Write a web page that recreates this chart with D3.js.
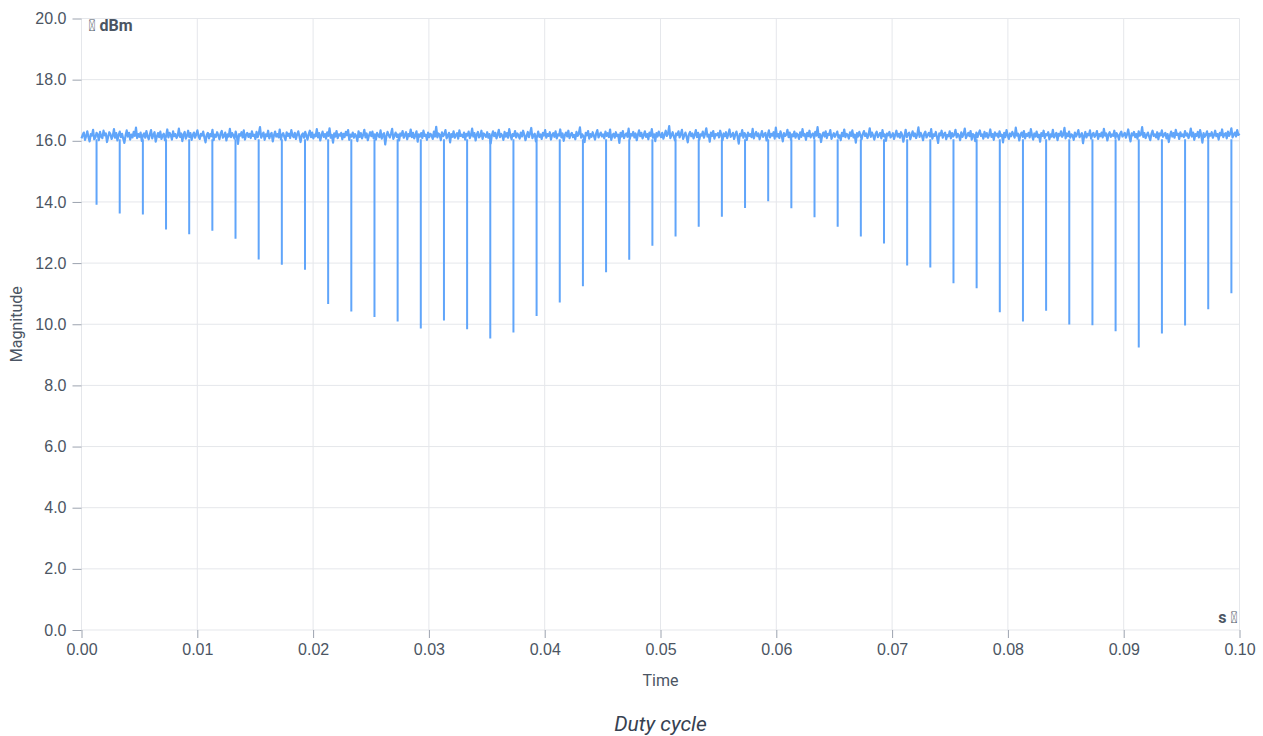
<!DOCTYPE html>
<html>
<head>
<meta charset="utf-8">
<script src="https://cdn.jsdelivr.net/npm/d3@7"></script>
<style>
  body { margin: 0; background: #fff; }
  svg { font-family: Roboto, "Noto Sans", sans-serif; }
</style>
</head>
<body>
<svg id="chart" width="1263" height="736"></svg>
<script>
// magnitude trace (dBm), evenly sampled over 0 .. 0.1 s
var noise = [
  16.08,16.19,16.27,16.03,16.15,16.31,16.12,15.98,16.22,16.17,16.36,16.05,16.11,16.26,16.20,16.02,16.29,16.14,16.09,16.33,16.18,16.24,15.96,16.13,16.28,
  16.21,16.06,16.16,16.38,16.10,16.25,16.01,16.19,16.30,16.12,16.23,16.07,15.93,16.17,16.34,16.14,16.26,16.04,16.20,16.11,16.29,16.16,16.43,16.09,16.22,
  16.13,16.27,16.00,16.18,16.24,16.10,16.32,16.15,16.05,16.21,16.35,16.08,16.19,16.28,15.97,16.14,16.25,16.12,16.30,16.06,16.18,16.23,16.02,16.16,16.37,
  16.11,16.26,16.19,16.04,16.31,16.15,16.22,16.09,16.17,16.40,16.13,16.24,15.99,16.20,16.29,16.07,16.16,16.33,16.12,16.25,16.03,16.18,16.27,16.10,16.21,
  16.34,16.14,16.06,16.23,16.17,16.30,16.11,15.95,16.19,16.26,16.08,16.22,16.15,16.36,16.02,16.20,16.13,16.28,16.18,16.05,16.24,16.32,16.10,16.16,16.27,
  16.01,16.21,16.14,16.39,16.12,16.25,16.18,16.07,16.30,16.15,15.90,16.22,16.17,16.28,16.11,16.34,16.04,16.19,16.26,16.13,16.23,16.09,16.31,16.16,16.20,
  16.06,16.29,16.12,16.24,16.45,16.10,16.18,16.27,16.03,16.21,16.15,16.33,16.08,16.20,16.26,15.98,16.17,16.30,16.14,16.22,16.11,16.37,16.05,16.19,16.25,
  16.13,16.02,16.28,16.16,16.23,16.09,16.35,16.18,16.12,16.26,16.06,16.21,16.31,16.14,15.96,16.19,16.24,16.10,16.29,16.17,16.04,16.22,16.33,16.12,16.27,
  16.08,16.20,16.15,16.38,16.11,16.25,16.01,16.18,16.30,16.13,16.22,16.07,16.28,16.16,16.41,16.10,16.19,15.94,16.24,16.14,16.32,16.09,16.21,16.17,16.26,
  16.05,16.23,16.12,16.29,16.18,16.35,16.03,16.20,16.14,16.27,16.10,16.22,16.16,15.99,16.31,16.13,16.25,16.08,16.19,16.36,16.11,16.24,16.02,16.17,16.28,
  16.15,16.30,16.09,16.21,16.04,16.26,16.18,16.12,16.34,16.07,16.20,16.25,15.88,16.14,16.29,16.19,16.11,16.23,16.39,16.06,16.16,16.27,16.13,16.21,16.01,
  16.24,16.17,16.32,16.10,16.19,16.28,16.05,16.22,16.15,16.37,16.12,16.26,16.08,16.18,16.31,15.97,16.21,16.14,16.25,16.09,16.33,16.16,16.20,16.03,16.27,
  16.12,16.23,16.18,16.06,16.30,16.14,16.46,16.11,16.24,16.19,16.02,16.28,16.15,16.21,16.35,16.08,16.17,16.26,15.95,16.22,16.13,16.31,16.10,16.19,16.25,
  16.07,16.34,16.16,16.20,16.12,16.27,16.04,16.23,16.17,16.30,16.09,16.18,16.40,16.14,16.25,16.01,16.21,16.29,16.11,16.16,16.33,16.06,16.24,16.19,16.13,
  16.28,16.10,16.22,15.92,16.18,16.31,16.15,16.26,16.08,16.20,16.36,16.12,16.23,16.17,16.03,16.29,16.14,16.25,16.10,16.38,16.19,16.05,16.22,16.16,16.32,
  16.11,16.24,16.18,16.07,16.27,16.14,16.33,16.20,16.02,16.16,16.29,16.12,16.25,16.42,16.09,16.19,16.23,15.98,16.15,16.30,16.13,16.21,16.06,16.26,16.17,
  16.35,16.10,16.22,16.16,16.28,16.04,16.19,16.25,16.13,16.31,16.08,16.21,16.17,16.37,16.11,16.24,16.00,16.18,16.27,16.14,16.33,16.09,16.20,16.26,16.12,
  16.19,16.05,16.29,16.16,16.23,16.44,16.10,16.21,16.15,15.96,16.26,16.18,16.32,16.07,16.22,16.13,16.28,16.17,16.04,16.24,16.35,16.11,16.19,16.27,16.14,
  16.21,16.08,16.30,16.16,16.25,16.12,16.37,16.03,16.18,16.23,16.10,16.28,16.15,16.20,15.93,16.26,16.14,16.32,16.09,16.19,16.24,16.13,16.40,16.06,16.22,
  16.17,16.29,16.11,16.24,16.02,16.20,16.34,16.15,16.26,16.08,16.18,16.31,16.13,16.22,16.05,16.27,16.16,16.38,16.10,16.21,15.99,16.25,16.14,16.30,16.19,
  16.12,16.26,16.07,16.20,16.33,16.16,16.23,16.48,16.09,16.18,16.28,16.14,16.01,16.24,16.19,16.31,16.11,16.22,16.36,16.06,16.17,16.27,16.13,15.95,16.21,
  16.29,16.15,16.24,16.08,16.19,16.35,16.12,16.26,16.04,16.21,16.17,16.30,16.10,16.23,16.41,16.14,16.20,15.97,16.27,16.16,16.32,16.07,16.22,16.18,16.25,
  16.11,16.33,16.19,16.02,16.24,16.15,16.28,16.09,16.21,16.37,16.13,16.18,16.26,16.06,16.20,16.30,16.14,15.91,16.23,16.17,16.35,16.10,16.25,16.19,16.03,
  16.27,16.16,16.22,16.12,16.39,16.08,16.20,16.29,16.15,16.24,16.05,16.18,16.32,16.13,16.21,16.26,16.01,16.19,16.34,16.11,16.23,16.17,16.28,16.07,16.43,
  16.14,16.22,16.09,16.31,16.18,15.98,16.25,16.16,16.20,16.36,16.12,16.27,16.04,16.21,16.15,16.30,16.10,16.24,16.19,16.06,16.28,16.13,16.38,16.17,16.22,
  16.03,16.26,16.15,16.33,16.11,16.20,16.24,16.08,16.29,16.17,16.45,16.12,16.22,15.96,16.18,16.27,16.14,16.31,16.09,16.23,16.19,16.35,16.06,16.16,16.25,
  16.13,16.21,16.30,16.10,16.18,16.02,16.26,16.15,16.37,16.12,16.23,16.19,16.07,16.28,16.16,16.34,16.11,16.20,15.94,16.25,16.14,16.29,16.18,16.05,16.22,
  16.32,16.16,16.24,16.09,16.20,16.41,16.13,16.27,16.17,16.04,16.22,16.30,16.12,16.19,16.26,16.08,16.35,16.15,16.21,16.00,16.24,16.18,16.29,16.11,16.17,
  16.25,16.06,16.20,16.33,16.14,16.23,16.10,16.28,16.19,15.97,16.16,16.36,16.12,16.22,16.27,16.05,16.18,16.31,16.15,16.24,16.09,16.20,16.44,16.13,16.26,
  16.17,16.02,16.23,16.30,16.11,16.19,16.26,16.14,16.38,16.07,16.21,16.16,16.29,16.12,15.93,16.24,16.18,16.33,16.10,16.22,16.27,16.05,16.19,16.15,16.31,
  16.08,16.25,16.14,16.20,16.36,16.11,16.23,16.17,16.02,16.28,16.13,16.21,16.40,16.09,16.18,16.26,16.15,16.32,16.04,16.22,16.19,15.99,16.27,16.12,16.24,
  16.34,16.16,16.21,16.07,16.29,16.14,16.25,16.10,16.19,16.37,16.13,16.22,16.03,16.28,16.17,16.23,16.11,16.31,16.16,16.20,15.95,16.26,16.12,16.35,16.18,
  16.06,16.24,16.15,16.29,16.21,16.10,16.43,16.17,16.23,16.01,16.19,16.27,16.13,16.32,16.08,16.22,16.16,16.26,16.11,16.38,16.18,16.04,16.24,16.14,16.30,
  16.12,16.20,15.97,16.25,16.16,16.33,16.09,16.22,16.18,16.28,16.05,16.21,16.14,16.36,16.11,16.19,16.26,16.02,16.23,16.17,16.31,16.13,16.20,16.42,16.08,
  16.24,16.15,16.30,16.10,16.21,16.18,16.03,16.27,16.14,16.22,16.35,16.12,16.19,16.25,15.92,16.16,16.29,16.11,16.23,16.18,16.34,16.07,16.20,16.26,16.13,
  16.19,16.32,16.06,16.22,16.15,16.27,16.11,16.39,16.17,16.24,16.01,16.20,16.28,16.13,16.21,16.16,16.33,16.09,16.25,16.18,16.04,16.23,16.30,16.14,16.19,
  16.26,16.10,16.21,16.37,16.15,15.98,16.24,16.18,16.29,16.12,16.22,16.07,16.31,16.17,16.20,16.45,16.13,16.25,16.09,16.19,16.27,16.14,16.02,16.23,16.33,
  16.16,16.21,16.11,16.28,16.05,16.24,16.18,16.34,16.13,16.20,16.26,16.08,16.22,15.96,16.17,16.30,16.14,16.25,16.10,16.36,16.19,16.23,16.06,16.28,16.15,
  16.21,16.12,16.32,16.17,16.24,16.09,16.19,16.40,16.14,16.27,16.03,16.22,16.16,16.29,16.11,16.35,16.18,15.94,16.25,16.13,16.20,16.31,16.07,16.23,16.17,
  16.28,16.10,16.19,16.33,16.15,16.22,16.04,16.26,16.18,16.37,16.12,16.21,16.25,16.08,16.30,16.16,16.23,16.41,16.11,16.20,16.27,16.14,16.35,16.19,16.24
];

// pulse dips: time (s) and lowest magnitude (dBm)
var dipTimes = [
  0.0013,0.0033,0.0053,0.0073,0.0093,0.0113,0.0133,0.0153,0.0173,0.0193,
  0.0213,0.0233,0.0253,0.0273,0.0293,0.0313,0.0333,0.0353,0.0373,0.0393,
  0.0413,0.0433,0.0453,0.0473,0.0493,0.0513,0.0533,0.0553,0.0573,0.0593,
  0.0613,0.0633,0.0653,0.0673,0.0693,0.0713,0.0733,0.0753,0.0773,0.0793,
  0.0813,0.0833,0.0853,0.0873,0.0893,0.0913,0.0933,0.0953,0.0973,0.0993
];
var dipValues = [
  13.91,13.62,13.59,13.10,12.94,13.06,12.80,12.12,11.95,11.78,
  10.66,10.42,10.24,10.09,9.86,10.12,9.84,9.53,9.73,10.27,
  10.71,11.24,11.70,12.11,12.57,12.87,13.19,13.52,13.80,14.02,
  13.79,13.50,13.19,12.87,12.64,11.92,11.86,11.34,11.18,10.39,
  10.09,10.44,9.99,9.97,9.77,9.24,9.70,9.96,10.49,11.01
];

var xTicks = [0, 0.01, 0.02, 0.03, 0.04, 0.05, 0.06, 0.07, 0.08, 0.09, 0.10];
var yTicks = [0, 2, 4, 6, 8, 10, 12, 14, 16, 18, 20];

var margin = {top: 18.5, right: 23.5, bottom: 106, left: 81.5};
var width = 1263 - margin.left - margin.right,
    height = 736 - margin.top - margin.bottom;

var svg = d3.select("#chart");
var g = svg.append("g").attr("transform", "translate(" + margin.left + "," + margin.top + ")");

var x = d3.scaleLinear().domain([0, 0.1]).range([0, width]);
var y = d3.scaleLinear().domain([0, 20]).range([height, 0]);

// grid
g.append("g").selectAll("line").data(yTicks).enter().append("line")
  .attr("x1", 0).attr("x2", width)
  .attr("y1", function(d){ return y(d); }).attr("y2", function(d){ return y(d); })
  .attr("stroke", "#e5e7eb").attr("stroke-width", 1);
g.append("g").selectAll("line").data(xTicks).enter().append("line")
  .attr("y1", 0).attr("y2", height)
  .attr("x1", function(d){ return x(d); }).attr("x2", function(d){ return x(d); })
  .attr("stroke", "#e5e7eb").attr("stroke-width", 1);

// axes
var yAxis = g.append("g")
  .call(d3.axisLeft(y).tickValues(yTicks).tickFormat(d3.format(".1f")).tickSize(9).tickPadding(6));
var xAxis = g.append("g").attr("transform", "translate(0," + height + ")")
  .call(d3.axisBottom(x).tickValues(xTicks).tickFormat(d3.format(".2f")).tickSize(8).tickPadding(6));
[yAxis, xAxis].forEach(function(a){
  a.select(".domain").remove();
  a.selectAll(".tick line").attr("stroke", "#9ca3af");
  a.selectAll(".tick text").attr("fill", "#4b5563").style("font-size", "16px");
});

// trace
var step = 0.1 / (noise.length - 1);
var line = d3.line()
  .x(function(d, i){ return x(i * step); })
  .y(function(d){ return y(d); });

g.append("path")
  .datum(dipTimes)
  .attr("fill", "none")
  .attr("stroke", "#60a5fa")
  .attr("stroke-width", 2)
  .attr("d", function(d){
    return d.map(function(t, i){
      return "M" + x(t) + "," + y(16.05) + "V" + y(dipValues[i]);
    }).join("");
  });

g.append("path")
  .datum(noise)
  .attr("fill", "none")
  .attr("stroke", "#60a5fa")
  .attr("stroke-width", 2.2)
  .attr("stroke-linejoin", "round")
  .attr("d", line);

// unit labels
g.append("text").attr("x", 7).attr("y", 12)
  .attr("fill", "#4b5563").style("font-size", "16px").style("font-weight", "bold")
  .text("\uf2c9 dBm");
g.append("text").attr("x", width - 2).attr("y", height - 7)
  .attr("text-anchor", "end")
  .attr("fill", "#4b5563").style("font-size", "16px").style("font-weight", "bold")
  .text("s \uf2c9");

// axis titles
svg.append("text")
  .attr("transform", "translate(22," + (margin.top + height / 2) + ") rotate(-90)")
  .attr("text-anchor", "middle")
  .attr("fill", "#4b5563").style("font-size", "16px")
  .text("Magnitude");
svg.append("text")
  .attr("x", margin.left + width / 2).attr("y", 686)
  .attr("text-anchor", "middle")
  .attr("fill", "#4b5563").style("font-size", "16px")
  .text("Time");
svg.append("text")
  .attr("x", margin.left + width / 2).attr("y", 731)
  .attr("text-anchor", "middle")
  .attr("fill", "#374151").style("font-size", "21px").style("font-style", "italic")
  .text("Duty cycle");
</script>
</body>
</html>
